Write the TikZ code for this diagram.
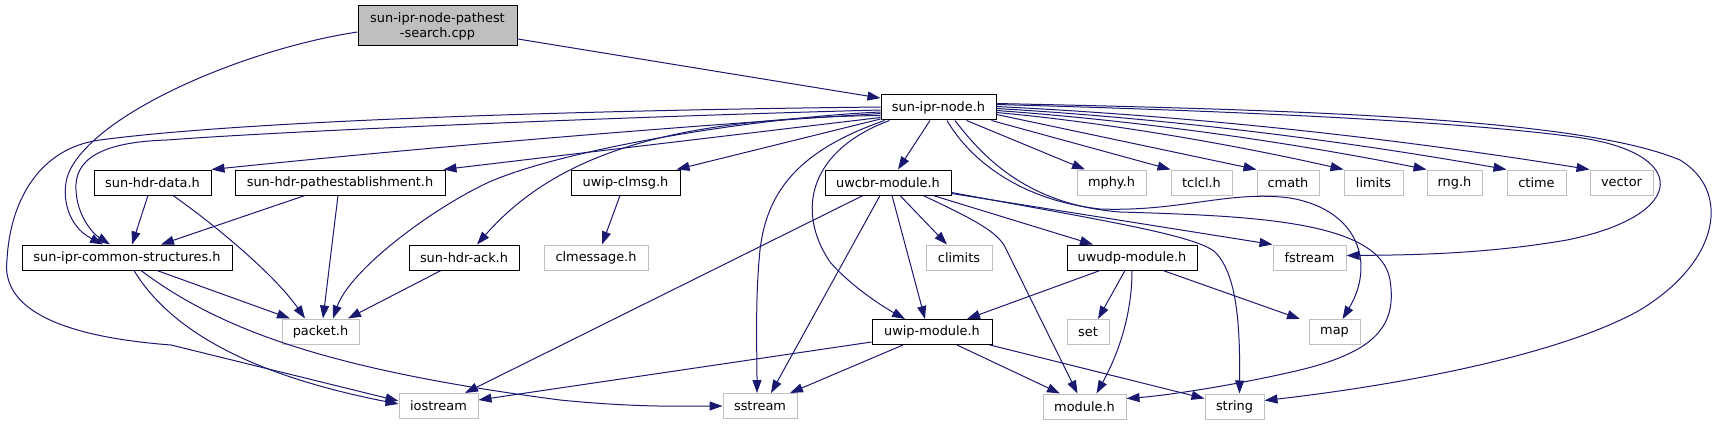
\documentclass[tikz,border=0pt]{standalone}
\usepackage{fontspec}
\setmainfont{DejaVu Sans}
\usetikzlibrary{arrows.meta}
\definecolor{edgeblue}{HTML}{191970}
\definecolor{greyS}{HTML}{BFBFBF}
\begin{document}
\begin{tikzpicture}[x=1pt,y=-1pt,
  box/.style={draw=black, fill=white, line width=1pt, minimum height=25pt, inner sep=0pt,
    font=\fontsize{12.9}{15}\selectfont, text=black},
  gbox/.style={box, draw=greyS},
  lnk/.style={draw=edgeblue, line width=1pt, -{Triangle[length=13pt,width=9pt]}},
]
\useasboundingbox (0,0) rectangle (1718,425);

% nodes
\node[box, fill=greyS, minimum width=159pt, minimum height=40pt, align=center] (cpp) at (437.5,26) {sun-ipr-node-pathest\\-search.cpp};
\node[box, minimum width=115pt] (sipn) at (938.5,107.5) {sun-ipr-node.h};
\node[box, minimum width=117pt] (shd) at (152.5,182.5) {sun-hdr-data.h};
\node[box, minimum width=210pt] (shp) at (340,182.5) {sun-hdr-pathestablishment.h};
\node[box, minimum width=109pt] (clmsg) at (625.5,182.5) {uwip-clmsg.h};
\node[box, minimum width=126pt] (cbr) at (888,182.5) {uwcbr-module.h};
\node[gbox, minimum width=69pt] (mphy) at (1111.5,182.5) {mphy.h};
\node[gbox, minimum width=61pt] (tclcl) at (1201.5,182.5) {tclcl.h};
\node[gbox, minimum width=62pt] (cmath) at (1288,182.5) {cmath};
\node[gbox, minimum width=59pt] (limits) at (1373.5,182.5) {limits};
\node[gbox, minimum width=55pt] (rng) at (1454.5,182.5) {rng.h};
\node[gbox, minimum width=59pt] (ctime) at (1536.5,182.5) {ctime};
\node[gbox, minimum width=63pt] (vector) at (1621.5,182.5) {vector};
\node[box, minimum width=210pt] (scs) at (127,257.5) {sun-ipr-common-structures.h};
\node[box, minimum width=110pt] (ack) at (464,257.5) {sun-hdr-ack.h};
\node[gbox, minimum width=104pt] (clmessage) at (596,257.5) {clmessage.h};
\node[gbox, minimum width=66pt] (climits) at (959,257.5) {climits};
\node[box, minimum width=130pt] (uwudp) at (1132,257.5) {uwudp-module.h};
\node[gbox, minimum width=73pt] (fstream) at (1309.5,257.5) {fstream};
\node[gbox, minimum width=77pt] (packet) at (320.5,331.5) {packet.h};
\node[box, minimum width=120pt] (uwip) at (932,332) {uwip-module.h};
\node[gbox, minimum width=42pt] (set) at (1088,332) {set};
\node[gbox, minimum width=51pt] (map) at (1334.5,332) {map};
\node[gbox, minimum width=79pt] (iostream) at (438.5,406) {iostream};
\node[gbox, minimum width=74pt] (sstream) at (760,406) {sstream};
\node[gbox, minimum width=83pt] (module) at (1084.5,406.5) {module.h};
\node[gbox, minimum width=59pt] (string) at (1234.5,406.5) {string};

% cpp edges
\draw[lnk] (cpp) -- (sipn);
\draw[lnk] ([yshift=-6pt]cpp.west) .. controls (250,48) and (100,110) .. (70,170) .. controls (60,190) and (65,225) .. ([xshift=-24pt]scs.north);

% sun-ipr-node.h edges, left side
\draw[lnk] ([yshift=-2.5pt]sipn.west) .. controls (650,116) and (300,130) .. (167,140) .. controls (100,142) and (74,160) .. (76,190) .. controls (77,215) and (92,233) .. ([xshift=-17pt]scs.north);
\draw[lnk] ([yshift=0.5pt]sipn.west) .. controls (600,110) and (250,120) .. (100,140) .. controls (40,148) and (10,200) .. (7,260) .. controls (2,300) and (40,335) .. (171,345) -- ([yshift=5pt]iostream.west);
\draw[lnk] ([yshift=-4.5pt]sipn.west) .. controls (750,118) and (560,150) .. (487,183) .. controls (430,210) and (350,270) .. ([xshift=12.5pt]packet.north);
\draw[lnk] ([yshift=-8pt]sipn.west) .. controls (680,118) and (560,150) .. ([xshift=13pt]ack.north);
\draw[lnk] ([yshift=-6pt]sipn.west) .. controls (650,128) and (400,150) .. (shd.north east);
\draw[lnk] ([yshift=-10pt]sipn.west) -- ([xshift=-2pt]shp.north east);
\draw[lnk] ([yshift=-11.5pt]sipn.west) -- ([xshift=-4pt]clmsg.north east);
\draw[lnk] ([xshift=4pt]sipn.south west) .. controls (800,150) and (767,190) .. (760,250) .. controls (755,300) and (757,350) .. ([xshift=-3pt]sstream.north);
\draw[lnk] ([xshift=9pt]sipn.south west) .. controls (810,150) and (795,210) .. (830,262) .. controls (850,285) and (880,305) .. ([xshift=-27pt]uwip.north);
\draw[lnk] ([xshift=-8.5pt]sipn.south) -- ([xshift=10pt]cbr.north);

% sun-ipr-node.h edges, right side
\draw[lnk] ([xshift=8.5pt]sipn.south) .. controls (970,160) and (1020,200) .. (1100,209) .. controls (1180,212) and (1230,190) .. (1290,198) .. controls (1360,210) and (1375,265) .. ([xshift=8pt]map.north);
\draw[lnk] ([xshift=16.5pt]sipn.south) .. controls (985,160) and (1030,205) .. (1120,212) .. controls (1250,216) and (1380,220) .. (1390,280) .. controls (1398,330) and (1370,355) .. (1287,373) .. controls (1220,388) and (1160,396) .. ([yshift=8pt]module.east);
\draw[lnk] ([xshift=28pt]sipn.south) -- ([xshift=-26.5pt]mphy.north);
\draw[lnk] ([xshift=-5pt]sipn.south east) -- (tclcl.north west);
\draw[lnk] ([yshift=-7pt]sipn.east) -- (cmath.north west);
\draw[lnk] ([yshift=-5pt]sipn.east) .. controls +(110,10) and +(-110,-25) .. (limits.north west);
\draw[lnk] ([yshift=-3pt]sipn.east) .. controls +(140,10) and +(-140,-28) .. (rng.north west);
\draw[lnk] ([yshift=-1pt]sipn.east) .. controls +(170,10) and +(-170,-30) .. (ctime.north west);
\draw[lnk] ([yshift=1pt]sipn.east) .. controls +(200,10) and +(-200,-32) .. (vector.north west);
\draw[lnk] ([yshift=3pt]sipn.east) .. controls (1200,110) and (1450,120) .. (1575,137) .. controls (1690,152) and (1690,215) .. (1567,240) .. controls (1480,255) and (1400,255) .. ([yshift=2pt]fstream.east);
\draw[lnk] ([yshift=4pt]sipn.east) .. controls (1300,110) and (1580,118) .. (1680,160) .. controls (1730,190) and (1722,260) .. (1640,310) .. controls (1560,355) and (1400,385) .. ([yshift=6pt]string.east);

% sun-ipr-common-structures.h and headers
\draw[lnk] ([xshift=7pt]scs.south) .. controls (170,330) and (250,375) .. ([yshift=2pt]iostream.west);
\draw[lnk] ([xshift=14pt]scs.south) .. controls (220,330) and (330,370) .. (560,400) .. controls (640,408) and (690,406) .. (sstream.west);
\draw[lnk] ([xshift=30pt]scs.south) -- ([xshift=-30.5pt]packet.north);
\draw[lnk] ([xshift=-4.5pt]shd.south) -- ([xshift=5pt]scs.north);
\draw[lnk] ([xshift=-35pt]shp.south) -- ([xshift=34pt]scs.north);
\draw[lnk] ([xshift=20.5pt]shd.south) .. controls (215,225) and (275,275) .. ([xshift=-15.5pt]packet.north);
\draw[lnk] ([xshift=-2pt]shp.south) -- ([xshift=2.5pt]packet.north);
\draw[lnk] ([xshift=-23pt]ack.south) -- ([xshift=27.5pt]packet.north);
\draw[lnk] ([xshift=-5.5pt]clmsg.south) -- ([xshift=6pt]clmessage.north);

% uwcbr-module.h
\draw[lnk] ([xshift=-25pt]cbr.south) -- ([xshift=26.5pt]iostream.north);
\draw[lnk] ([xshift=-8pt]cbr.south) -- ([xshift=11pt]sstream.north);
\draw[lnk] ([xshift=4pt]cbr.south) -- ([xshift=-7pt]uwip.north);
\draw[lnk] ([xshift=12pt]cbr.south) -- ([xshift=-12pt]climits.north);
\draw[lnk] ([xshift=35pt]cbr.south) .. controls (980,222) and (995,232) .. (1004,245) -- ([xshift=-7pt]module.north);
\draw[lnk] ([xshift=45pt]cbr.south) -- ([xshift=-39pt]uwudp.north);
\draw[lnk] ([yshift=-11pt]cbr.east) -- (fstream.north west);
\draw[lnk] ([yshift=-10pt]cbr.east) .. controls (1100,220) and (1195,235) .. (1215,252) .. controls (1238,275) and (1240,330) .. ([xshift=5pt]string.north);

% uwudp-module.h
\draw[lnk] ([xshift=-32pt]uwudp.south) -- ([xshift=35pt]uwip.north);
\draw[lnk] ([xshift=-7pt]uwudp.south) -- ([xshift=10pt]set.north);
\draw[lnk] (uwudp.south) .. controls (1132,320) and (1115,360) .. ([xshift=12pt]module.north);
\draw[lnk] ([xshift=31pt]uwudp.south) -- ([xshift=-34.5pt]map.north);

% uwip-module.h
\draw[lnk] ([yshift=-10pt]uwip.west) -- ([yshift=6pt]iostream.east);
\draw[lnk] ([xshift=-29pt]uwip.south) -- ([xshift=30pt]sstream.north);
\draw[lnk] ([xshift=25pt]uwip.south) -- ([xshift=-24.5pt]module.north);
\draw[lnk] ([xshift=58pt]uwip.south) -- ([yshift=8pt]string.west);
\end{tikzpicture}
\end{document}
